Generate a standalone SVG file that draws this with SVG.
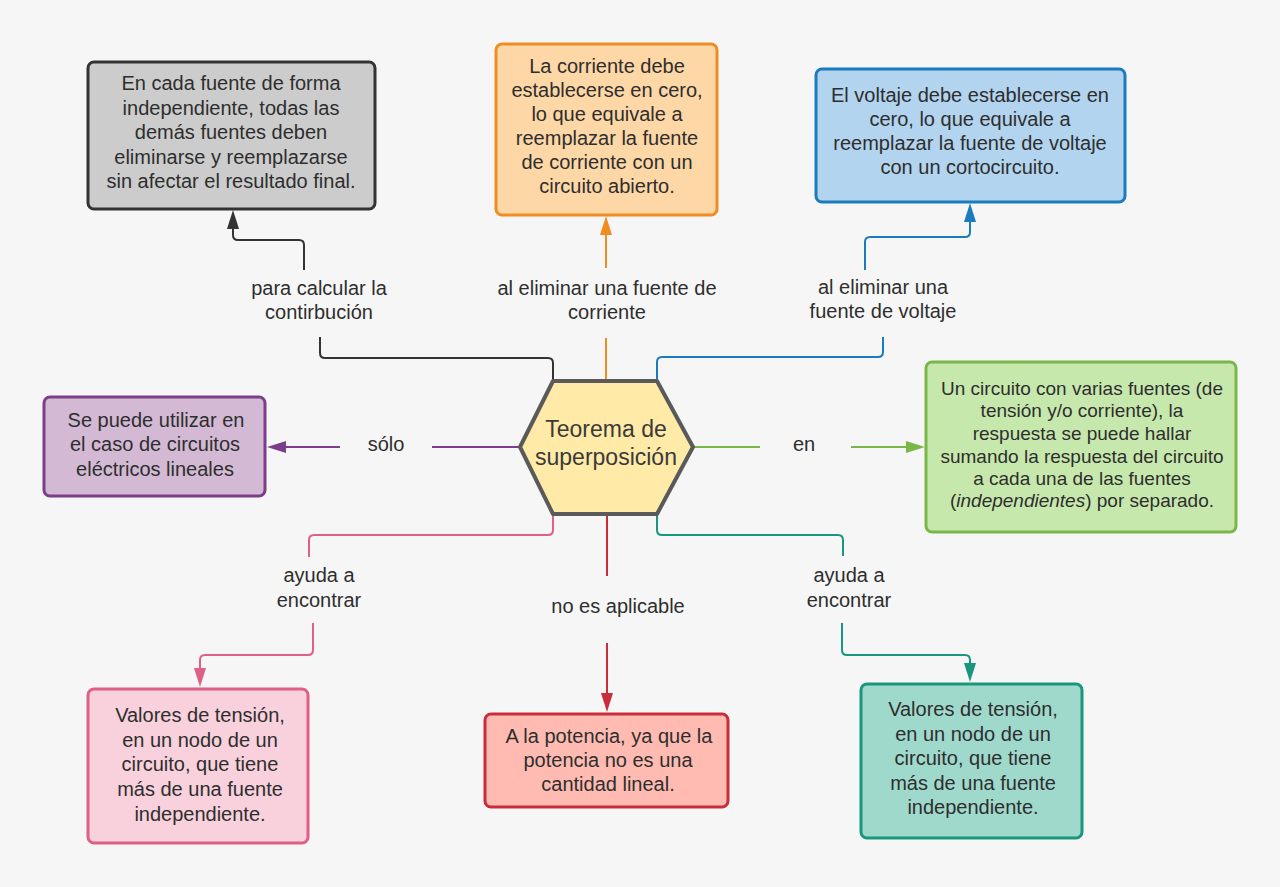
<svg xmlns="http://www.w3.org/2000/svg" width="1280" height="887" viewBox="0 0 1280 887">
  <style>
    text { font-family: "Liberation Sans", Arial, sans-serif; fill: #2e2e2e; text-anchor: middle; }
    .t { font-size: 20px; }
    .g { font-size: 19px; }
    .lbl { font-size: 20px; }
    .hx { font-size: 23px; fill: #3a3a3a; }
    .box { stroke-width: 3; }
    .conn path { fill: none; stroke-width: 2; }
  </style>
  <defs>
    <marker id="m-dark" viewBox="0 0 19 12" refX="15" refY="6" markerWidth="19" markerHeight="12" markerUnits="userSpaceOnUse" orient="auto"><path d="M0,0 L19,6 L0,12 z" fill="#333333"/></marker>
    <marker id="m-orange" viewBox="0 0 19 12" refX="15" refY="6" markerWidth="19" markerHeight="12" markerUnits="userSpaceOnUse" orient="auto"><path d="M0,0 L19,6 L0,12 z" fill="#ef8d22"/></marker>
    <marker id="m-blue" viewBox="0 0 19 12" refX="15" refY="6" markerWidth="19" markerHeight="12" markerUnits="userSpaceOnUse" orient="auto"><path d="M0,0 L19,6 L0,12 z" fill="#1b7bbf"/></marker>
    <marker id="m-purple" viewBox="0 0 19 12" refX="15" refY="6" markerWidth="19" markerHeight="12" markerUnits="userSpaceOnUse" orient="auto"><path d="M0,0 L19,6 L0,12 z" fill="#7c3d8b"/></marker>
    <marker id="m-green" viewBox="0 0 19 12" refX="15" refY="6" markerWidth="19" markerHeight="12" markerUnits="userSpaceOnUse" orient="auto"><path d="M0,0 L19,6 L0,12 z" fill="#7ab648"/></marker>
    <marker id="m-pink" viewBox="0 0 19 12" refX="15" refY="6" markerWidth="19" markerHeight="12" markerUnits="userSpaceOnUse" orient="auto"><path d="M0,0 L19,6 L0,12 z" fill="#df5f87"/></marker>
    <marker id="m-red" viewBox="0 0 19 12" refX="15" refY="6" markerWidth="19" markerHeight="12" markerUnits="userSpaceOnUse" orient="auto"><path d="M0,0 L19,6 L0,12 z" fill="#c92d39"/></marker>
    <marker id="m-teal" viewBox="0 0 19 12" refX="15" refY="6" markerWidth="19" markerHeight="12" markerUnits="userSpaceOnUse" orient="auto"><path d="M0,0 L19,6 L0,12 z" fill="#19967d"/></marker>
  </defs>

  <rect x="0" y="0" width="1280" height="887" fill="#f6f6f6"/>

  <!-- connectors -->
  <g id="connectors" class="conn">
    <path d="M553,381 V363 Q553,358 548,358 H325 Q320,358 320,353 V337" stroke="#333333"/>
    <path d="M304,270 V245 Q304,240 299,240 H238 Q233,240 233,235 V214" stroke="#333333" marker-end="url(#m-dark)"/>

    <path d="M606,381 V338" stroke="#ef8d22"/>
    <path d="M606,268 V220" stroke="#ef8d22" marker-end="url(#m-orange)"/>

    <path d="M657,381 V362 Q657,357 662,357 H878 Q883,357 883,352 V337" stroke="#1b7bbf"/>
    <path d="M865,270 V242 Q865,237 870,237 H965 Q970,237 970,232 V207" stroke="#1b7bbf" marker-end="url(#m-blue)"/>

    <path d="M520,447 H432" stroke="#7c3d8b"/>
    <path d="M340,447 H271" stroke="#7c3d8b" marker-end="url(#m-purple)"/>

    <path d="M693,447 H760" stroke="#7ab648"/>
    <path d="M851,447 H921" stroke="#7ab648" marker-end="url(#m-green)"/>

    <path d="M553,514 V530 Q553,535 548,535 H314 Q309,535 309,540 V557" stroke="#df5f87"/>
    <path d="M313,623 V650 Q313,655 308,655 H205 Q200,655 200,660 V683" stroke="#df5f87" marker-end="url(#m-pink)"/>

    <path d="M607,514 V576" stroke="#c92d39"/>
    <path d="M607,643 V708" stroke="#c92d39" marker-end="url(#m-red)"/>

    <path d="M657,514 V530 Q657,535 662,535 H838 Q843,535 843,540 V556" stroke="#19967d"/>
    <path d="M842,623 V650 Q842,655 847,655 H965 Q970,655 970,660 V678" stroke="#19967d" marker-end="url(#m-teal)"/>
  </g>

  <!-- connector labels -->
  <g id="labels" class="lbl">
    <text class="lbl" x="319" y="295">para calcular la</text>
    <text class="lbl" x="319" y="319">contirbución</text>
    <text class="lbl" x="607" y="295">al eliminar una fuente de</text>
    <text class="lbl" x="607" y="319">corriente</text>
    <text class="lbl" x="883" y="294">al eliminar una</text>
    <text class="lbl" x="883" y="318">fuente de voltaje</text>
    <text class="lbl" x="386" y="451">sólo</text>
    <text class="lbl" x="804" y="451">en</text>
    <text class="lbl" x="319" y="582">ayuda a</text>
    <text class="lbl" x="319" y="607">encontrar</text>
    <text class="lbl" x="618" y="613">no es aplicable</text>
    <text class="lbl" x="849" y="582">ayuda a</text>
    <text class="lbl" x="849" y="607">encontrar</text>
  </g>

  <!-- central topic -->
  <g id="teorema">
    <polygon points="553,381 657,381 693,447 657,514 553,514 520,447" fill="#ffeaa7" stroke="#5a5a5a" stroke-width="4" stroke-linejoin="round"/>
    <text class="hx" x="606" y="437">Teorema de</text>
    <text class="hx" x="606" y="465">superposición</text>
  </g>

  <g id="contribucion">
    <rect class="box" x="88" y="62" width="287" height="147" rx="6" fill="#cccccc" stroke="#333333"/>
    <text class="t" x="231" y="90">En cada fuente de forma</text>
    <text class="t" x="231" y="114.5">independiente, todas las</text>
    <text class="t" x="231" y="139">demás fuentes deben</text>
    <text class="t" x="231" y="163.5">eliminarse y reemplazarse</text>
    <text class="t" x="231" y="188">sin afectar el resultado final.</text>
  </g>

  <g id="corriente">
    <rect class="box" x="496" y="44" width="221" height="171" rx="6" fill="#fed7a6" stroke="#ef8d22"/>
    <text class="t" x="607" y="73">La corriente debe</text>
    <text class="t" x="607" y="97">establecerse en cero,</text>
    <text class="t" x="607" y="121">lo que equivale a</text>
    <text class="t" x="607" y="145">reemplazar la fuente</text>
    <text class="t" x="607" y="169">de corriente con un</text>
    <text class="t" x="607" y="193">circuito abierto.</text>
  </g>

  <g id="voltaje">
    <rect class="box" x="816" y="69" width="309" height="133" rx="6" fill="#b2d4ef" stroke="#1b7bbf"/>
    <text class="t" x="970" y="102">El voltaje debe establecerse en</text>
    <text class="t" x="970" y="126">cero, lo que equivale a</text>
    <text class="t" x="970" y="150">reemplazar la fuente de voltaje</text>
    <text class="t" x="970" y="174">con un cortocircuito.</text>
  </g>

  <g id="lineales">
    <rect class="box" x="44" y="397" width="221" height="99" rx="6" fill="#d3b9d4" stroke="#7c3d8b"/>
    <text class="t" x="156" y="427">Se puede utilizar en</text>
    <text class="t" x="155" y="451">el caso de circuitos</text>
    <text class="t" x="155" y="476">eléctricos lineales</text>
  </g>

  <g id="definicion">
    <rect class="box" x="926" y="362" width="310" height="170" rx="6" fill="#c7e8ad" stroke="#7ab648"/>
    <text class="g" x="1082" y="395">Un circuito con varias fuentes (de</text>
    <text class="g" x="1082" y="417">tensión y/o corriente), la</text>
    <text class="g" x="1082" y="440">respuesta se puede hallar</text>
    <text class="g" x="1082" y="463">sumando la respuesta del circuito</text>
    <text class="g" x="1082" y="485">a cada una de las fuentes</text>
    <text class="g" x="1082" y="507">(<tspan font-style="italic">independientes</tspan>) por separado.</text>
  </g>

  <g id="tension-izq">
    <rect class="box" x="88" y="689" width="220" height="154" rx="6" fill="#f9d1dc" stroke="#df5f87"/>
    <text class="t" x="200" y="722">Valores de tensión,</text>
    <text class="t" x="200" y="747">en un nodo de un</text>
    <text class="t" x="200" y="771">circuito, que tiene</text>
    <text class="t" x="200" y="796">más de una fuente</text>
    <text class="t" x="200" y="821">independiente.</text>
  </g>

  <g id="potencia">
    <rect class="box" x="485" y="714" width="243" height="93" rx="6" fill="#ffbbb1" stroke="#c92d39"/>
    <text class="t" x="609" y="743">A la potencia, ya que la</text>
    <text class="t" x="608" y="767">potencia no es una</text>
    <text class="t" x="608" y="791">cantidad lineal.</text>
  </g>

  <g id="tension-der">
    <rect class="box" x="861" y="684" width="221" height="154" rx="6" fill="#9fd9cc" stroke="#19967d"/>
    <text class="t" x="973" y="716">Valores de tensión,</text>
    <text class="t" x="973" y="741">en un nodo de un</text>
    <text class="t" x="973" y="765">circuito, que tiene</text>
    <text class="t" x="973" y="790">más de una fuente</text>
    <text class="t" x="973" y="814">independiente.</text>
  </g>
</svg>
